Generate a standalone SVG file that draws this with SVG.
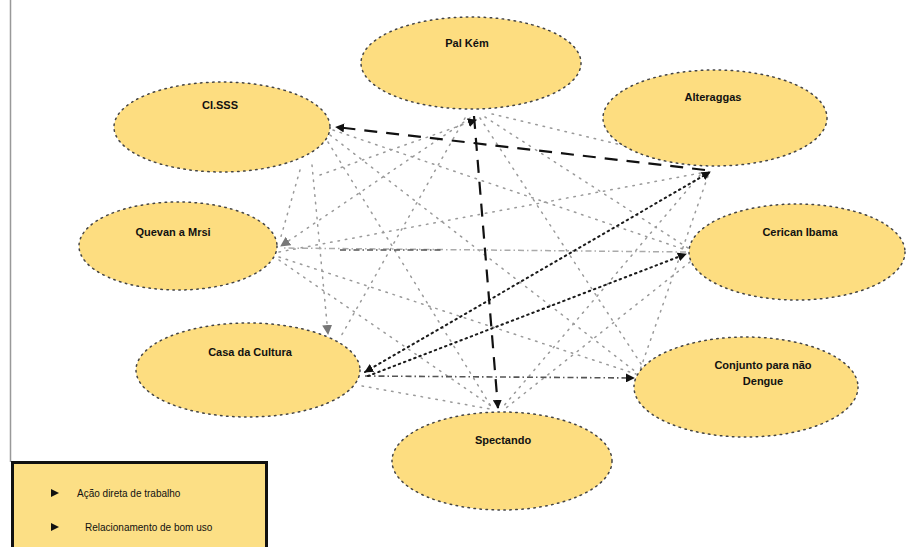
<svg xmlns="http://www.w3.org/2000/svg" width="907" height="547" viewBox="0 0 907 547">
<style>
.node ellipse{fill:#FDDD80;stroke:#444;stroke-width:1.5;stroke-dasharray:1.5 4.5;stroke-linecap:round}
.node text{font-family:"Liberation Sans",Arial,sans-serif;font-size:11px;font-weight:bold;fill:#111;text-anchor:middle}
.heavy{fill:none;stroke:#111;stroke-width:2.2;stroke-dasharray:13 9}
.dark{fill:none;stroke:#1a1a1a;stroke-width:2;stroke-dasharray:1.5 4;stroke-linecap:round}
.light{fill:none;stroke:#9a9a9a;stroke-width:1.5;stroke-dasharray:1.5 6;stroke-linecap:round}
.dashdot{fill:none;stroke:#555;stroke-width:1.6;stroke-dasharray:6 3 1.5 3}
.dashdotl{fill:none;stroke:#aaa;stroke-width:1.5;stroke-dasharray:6 3 1.5 3}
.leg{font-family:"Liberation Sans",Arial,sans-serif;font-size:10px;fill:#111}
</style>
<defs>
<marker id="ad" viewBox="0 0 10 10" refX="9" refY="5" markerWidth="9" markerHeight="9" markerUnits="userSpaceOnUse" orient="auto-start-reverse"><path d="M0,0 L10,5 L0,10 z" fill="#111"/></marker>
<marker id="ag" viewBox="0 0 10 10" refX="9" refY="5" markerWidth="10" markerHeight="10" markerUnits="userSpaceOnUse" orient="auto-start-reverse"><path d="M0,0 L10,5 L0,10 z" fill="#777"/></marker>
</defs>
<rect width="907" height="547" fill="#fff"/>
<line x1="10.5" y1="0" x2="10.5" y2="462" stroke="#999" stroke-width="1.5"/>
<g id="connectors">
<line class="light" x1="330" y1="135" x2="636" y2="372"/>
<line class="light" x1="333" y1="130" x2="686" y2="250"/>
<line class="light" x1="328" y1="142" x2="492" y2="408"/>
<line class="light" x1="312" y1="165" x2="328" y2="334" marker-end="url(#ag)"/>
<line class="light" x1="300" y1="170" x2="280" y2="240"/>
<line class="light" x1="470" y1="118" x2="281" y2="246" marker-end="url(#ag)"/>
<line class="light" x1="465" y1="118" x2="340" y2="338"/>
<line class="light" x1="480" y1="118" x2="645" y2="370"/>
<line class="light" x1="485" y1="117" x2="688" y2="248"/>
<line class="light" x1="492" y1="114" x2="705" y2="165"/>
<line class="light" x1="279" y1="252" x2="706" y2="172"/>
<line class="light" x1="279" y1="257" x2="636" y2="374"/>
<line class="light" x1="279" y1="260" x2="494" y2="408"/>
<line class="light" x1="708" y1="176" x2="640" y2="370"/>
<line class="light" x1="690" y1="262" x2="506" y2="408"/>
<line class="light" x1="362" y1="386" x2="490" y2="409"/>
<line class="light" x1="700" y1="175" x2="502" y2="408"/>
<line class="light" x1="320" y1="175" x2="476" y2="120" marker-end="url(#ad)"/>
<line class="dashdotl" x1="686" y1="252" x2="281" y2="248"/>
<line class="dashdot" x1="340" y1="250" x2="443" y2="250"/>
<line class="dashdot" x1="365" y1="376" x2="634" y2="378" marker-end="url(#ad)"/>
<line class="dark" x1="365" y1="372" x2="710" y2="172" marker-start="url(#ad)" marker-end="url(#ad)"/>
<line class="dark" x1="368" y1="376" x2="686" y2="254" marker-end="url(#ad)"/>
<line class="heavy" x1="705" y1="170" x2="336" y2="127" marker-end="url(#ad)"/>
<line class="heavy" x1="474" y1="116" x2="498" y2="408" marker-end="url(#ad)"/>
</g>
<g id="n-pal" class="node"><ellipse cx="471" cy="63" rx="110" ry="46"/><text x="467" y="47">Pal Kém</text></g>
<g id="n-ci" class="node"><ellipse cx="222" cy="127" rx="108" ry="45"/><text x="220" y="109">CI.SSS</text></g>
<g id="n-alt" class="node"><ellipse cx="715" cy="118" rx="112" ry="48"/><text x="713" y="101">Alteraggas</text></g>
<g id="n-que" class="node"><ellipse cx="178" cy="246" rx="99" ry="44"/><text x="173" y="236">Quevan a Mrsi</text></g>
<g id="n-cer" class="node"><ellipse cx="797" cy="252" rx="108" ry="48"/><text x="800" y="236">Cerican Ibama</text></g>
<g id="n-casa" class="node"><ellipse cx="248" cy="370" rx="112" ry="47"/><text x="250" y="356">Casa da Cultura</text></g>
<g id="n-con" class="node"><ellipse cx="746" cy="387" rx="112" ry="50"/><text x="763" y="369">Conjunto para não</text><text x="763" y="385">Dengue</text></g>
<g id="n-spe" class="node"><ellipse cx="502" cy="461" rx="110" ry="49"/><text x="503" y="444">Spectando</text></g>
<g id="legend">
<rect x="12.5" y="462.5" width="254" height="90" fill="#FCDF85" stroke="#111" stroke-width="3"/>
<path d="M51,489 L59,493 L51,497 z" fill="#111"/>
<path d="M51,523 L59,527 L51,531 z" fill="#111"/>
<text class="leg" x="77" y="497">Ação direta de trabalho</text>
<text class="leg" x="85" y="531">Relacionamento de bom uso</text>
</g>
</svg>
